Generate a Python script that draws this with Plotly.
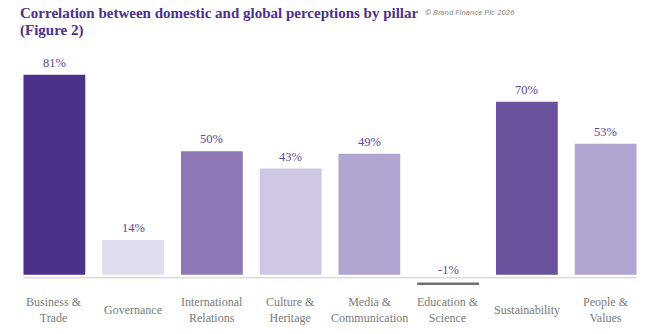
import plotly.graph_objects as go

categories = ["Business &<br>Trade", "Governance", "International<br>Relations",
              "Culture &<br>Heritage", "Media &<br>Communication", "Education &<br>Science",
              "Sustainability", "People &<br>Values"]
values = [81, 14, 50, 43, 49, -1, 70, 53]
colors = ["#4b3189", "#e1ddef", "#8d78b5", "#cfc6e4", "#b2a5d1", "#717171", "#6a539c", "#b2a5d1"]
value_labels = ["81%", "14%", "50%", "43%", "49%", "-1%", "70%", "53%"]

NEG_GAP = 3.2   # visual gap below the baseline for negative bars
LINE_Y = -1.3   # baseline rule position (data units)

xs = list(range(len(categories)))
bases = [0 if v >= 0 else -NEG_GAP for v in values]

fig = go.Figure()
fig.add_trace(go.Bar(
    x=xs, y=values, base=bases, marker_color=colors, marker_line_width=0,
    width=0.785, hoverinfo="skip",
))

fig.add_shape(type="line", xref="x", yref="y", x0=-0.3925, x1=len(xs) - 1 + 0.3925,
              y0=LINE_Y, y1=LINE_Y, line=dict(color="#dcdcdc", width=1.5), layer="below")

for i, (v, lab) in enumerate(zip(values, value_labels)):
    fig.add_annotation(x=i, y=max(v, 0), xref="x", yref="y", text=lab, showarrow=False,
                       yanchor="bottom", yshift=3 if v >= 0 else -4,
                       font=dict(family="Liberation Serif", size=12.5, color="#5b4a9a"))

cat_font = dict(family="Liberation Serif", size=12, color="#7a7a7a")
for i, c in enumerate(categories):
    fig.add_annotation(x=i, y=0, xref="x", yref="paper", text=c, showarrow=False,
                       yanchor="middle", yshift=-23, font=cat_font)

PW = 631
title_font = dict(family="Liberation Serif", size=15, color="#4b3189")
fig.add_annotation(xref="paper", yref="paper", x=(18 - 14.5) / PW, y=1,
                   text="<b>Correlation between domestic and global perceptions by pillar</b>",
                   showarrow=False, xanchor="left", yanchor="middle", yshift=52 - 13,
                   font=title_font)
fig.add_annotation(xref="paper", yref="paper", x=(18 - 14.5) / PW, y=1,
                   text="<b>(Figure 2)</b>",
                   showarrow=False, xanchor="left", yanchor="middle", yshift=52 - 30,
                   font=title_font)
fig.add_annotation(xref="paper", yref="paper", x=(423 - 14.5) / PW, y=1,
                   text="<i>© Brand Finance Plc 2026</i>",
                   showarrow=False, xanchor="left", yanchor="middle", yshift=52 - 12,
                   font=dict(family="Roboto", size=8, color="#8a8a8a"))

fig.update_layout(
    width=653, height=334,
    margin=dict(l=14.5, r=7.5, t=52, b=47),
    plot_bgcolor="white", paper_bgcolor="white",
    showlegend=False, bargap=0.215,
    xaxis=dict(range=[-0.5, len(xs) - 0.5], showticklabels=False, showgrid=False,
               zeroline=False, showline=False, ticks=""),
    yaxis=dict(range=[-5, 90.2], visible=False, showgrid=False, zeroline=False),
)

fig.write_html("out.html")
